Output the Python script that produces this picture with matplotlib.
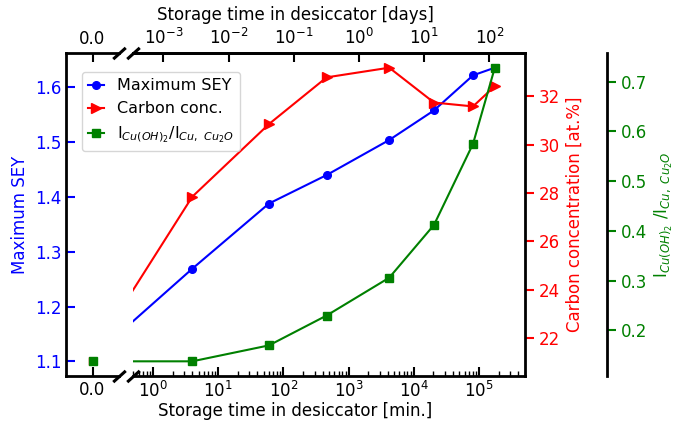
import matplotlib
matplotlib.use('Agg')
import matplotlib.pyplot as plt
import matplotlib.ticker as mticker
import numpy as np

# storage time in the desiccator [min]; 0 = freshly prepared sample
time_min = np.array([0, 4, 60, 460, 4200, 20400, 81000, 175000])
max_sey = np.array([1.100, 1.269, 1.388, 1.440, 1.504, 1.558, 1.622, 1.636])
carbon = np.array([21.05, 27.85, 30.85, 32.78, 33.18, 31.74, 31.58, 32.42])
ratio = np.array([0.138, 0.138, 0.170, 0.230, 0.306, 0.412, 0.575, 0.728])

MIN_PER_DAY = 1440.0
T0_LOG = 0.1          # stand-in for t=0 on the log panel, so the first segment is drawn

plt.rcParams['font.size'] = 12

W, H = 678, 428
fig = plt.figure(figsize=(W / 100, H / 100), dpi=100)


def px_rect(x0, y0, x1, y1):
    return [x0 / W, 1 - y1 / H, (x1 - x0) / W, (y1 - y0) / H]


def padded(v, m=0.05):
    lo, hi = v.min(), v.max()
    r = hi - lo
    return lo - m * r, hi + m * r


def only_spines(ax, keep, lw=2.0):
    for name, sp in ax.spines.items():
        sp.set_visible(name in keep)
        sp.set_linewidth(lw)
        sp.set_color('black')


rect_l = px_rect(66, 53, 119, 376)
rect_r = px_rect(133, 53, 525, 376)
ax_l = fig.add_axes(rect_l)
ax_r = fig.add_axes(rect_r)

lim_sey, lim_c, lim_r = padded(max_sey), padded(carbon), padded(ratio)

# ── left panel: t = 0 only ─────────────────────────────────────────────
ax_l.plot(time_min[:1], max_sey[:1], 'o', color='blue', ms=5.5)
ax_l.set_xlim(-0.5, 0.5)
ax_l.set_ylim(lim_sey)

# overlay axes carrying the other two quantities at t = 0
for i, (vals, lim, mk, col) in enumerate([(carbon, lim_c, '>', 'red'),
                                          (ratio, lim_r, 's', 'green')]):
    a = fig.add_axes(rect_l, label=f'left_overlay_{i}')
    a.plot(time_min[:1], vals[:1], mk, color=col, ms=5.5)
    a.set_xlim(-0.5, 0.5)
    a.set_ylim(lim)
    a.set_xticks([])
    a.set_yticks([])
    a.axis('off')

only_spines(ax_l, ('left', 'top', 'bottom'))
ax_l.xaxis.set_major_locator(mticker.FixedLocator([0]))
ax_l.xaxis.set_major_formatter(mticker.FormatStrFormatter('%.1f'))
ax_l.tick_params(axis='x', which='major', direction='in', length=6.5, width=1.5,
                 top=True, labeltop=True, labelsize=12)
ax_l.yaxis.set_major_locator(mticker.MultipleLocator(0.1))
ax_l.tick_params(axis='y', direction='in', length=6.5, width=1.5,
                 colors='blue', labelsize=12)
ax_l.set_ylabel('Maximum SEY', color='blue')

# ── right panel: log time axis ─────────────────────────────────────────
t_log = np.where(time_min > 0, time_min, T0_LOG)

l1, = ax_r.plot(t_log, max_sey, '-o', color='blue', ms=5.5, lw=1.5,
                label='Maximum SEY')
ax_c = ax_r.twinx()
l2, = ax_c.plot(t_log, carbon, '->', color='red', ms=6.5, lw=1.5,
                label='Carbon conc.')
ax_g = ax_r.twinx()
l3, = ax_g.plot(t_log, ratio, '-s', color='green', ms=5.5, lw=1.5,
                label=r'I$_{Cu(OH)_2}$/I$_{Cu,\ Cu_2O}$')

ax_r.set_xscale('log')
ax_r.set_xlim(0.493, 5.08e5)
ax_r.set_ylim(lim_sey)
ax_c.set_ylim(lim_c)
ax_g.set_ylim(lim_r)

only_spines(ax_r, ('top', 'bottom'))
ax_r.set_yticks([])
ax_r.xaxis.set_major_locator(mticker.LogLocator(base=10, numticks=12))
ax_r.xaxis.set_minor_locator(mticker.LogLocator(base=10, subs=np.arange(2, 10),
                                                numticks=12))
ax_r.xaxis.set_minor_formatter(mticker.NullFormatter())
ax_r.tick_params(axis='x', which='major', direction='in', length=6.5, width=1.5,
                 labelsize=12)
ax_r.tick_params(axis='x', which='minor', direction='in', length=3.5, width=1.0)

only_spines(ax_c, ('right',))
ax_c.yaxis.set_major_locator(mticker.MultipleLocator(2))
ax_c.tick_params(axis='y', direction='out', length=6.5, width=1.5,
                 colors='red', labelsize=12)
ax_c.set_ylabel('Carbon concentration [at.%]', color='red')

only_spines(ax_g, ('right',))
ax_g.spines['right'].set_position(('outward', 59))
ax_g.yaxis.set_major_locator(mticker.MultipleLocator(0.1))
ax_g.tick_params(axis='y', direction='out', length=6.5, width=1.5,
                 colors='green', labelsize=12)
ax_g.set_ylabel(r'I$_{Cu(OH)_2}$ /I$_{Cu,\ Cu_2O}$', color='green')

# ── top axis in days ───────────────────────────────────────────────────
ax_t = ax_r.twiny()
ax_t.set_xscale('log')
lo, hi = ax_r.get_xlim()
ax_t.set_xlim(lo / MIN_PER_DAY, hi / MIN_PER_DAY)
only_spines(ax_t, ('top',))
ax_t.set_yticks([])
ax_t.xaxis.set_major_locator(mticker.LogLocator(base=10, numticks=12))
ax_t.xaxis.set_minor_locator(mticker.NullLocator())
ax_t.tick_params(axis='x', which='major', direction='in', length=6.5, width=1.5,
                 labelsize=12)

# ── axis break marks ───────────────────────────────────────────────────
d = 0.9
brk = dict(marker=[(-1, -d), (1, d)], markersize=9, linestyle='none',
           color='k', mec='k', mew=2.2, clip_on=False)
ax_l.plot([1, 1], [0, 1], transform=ax_l.transAxes, **brk)
ax_r.plot([0, 0], [0, 1], transform=ax_r.transAxes, **brk)

# shared x labels centred over both panels
xc = (66 + 525) / 2 / W
fig.text(xc, 1 - 411 / H, 'Storage time in desiccator [min.]',
         ha='center', va='center', fontsize=12)
fig.text(xc, 1 - 15 / H, 'Storage time in desiccator [days]',
         ha='center', va='center', fontsize=12)

fig.legend(handles=[l1, l2, l3], loc='upper left',
           bbox_to_anchor=(82 / W, 1 - 72 / H), borderaxespad=0,
           handlelength=1.0, fontsize=11.5)

fig.savefig('out.png', dpi=100)
